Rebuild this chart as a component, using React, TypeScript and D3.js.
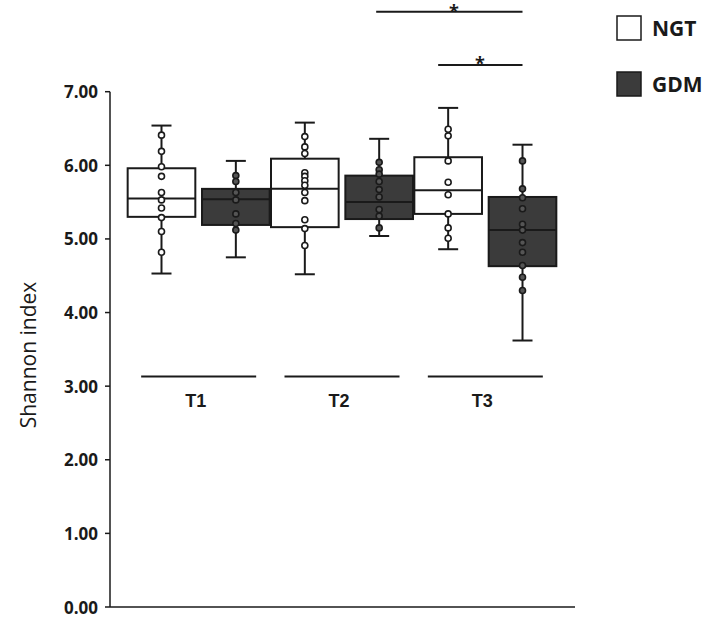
import * as d3 from 'd3';

// ---------------------------------------------------------------------------
// Data
// ---------------------------------------------------------------------------
const TIMEPOINTS = ['T1', 'T2', 'T3'];
const GROUPS = ['NGT', 'GDM'];

// [whisker low, q1, median, q3, whisker high]
const NGT_STATS = [
  [4.53, 5.3, 5.55, 5.96, 6.54],
  [4.52, 5.16, 5.68, 6.09, 6.58],
  [4.86, 5.34, 5.66, 6.11, 6.78],
];
const GDM_STATS = [
  [4.75, 5.19, 5.54, 5.68, 6.06],
  [5.04, 5.27, 5.5, 5.86, 6.36],
  [3.62, 4.63, 5.12, 5.57, 6.28],
];

const NGT_POINTS = [
  [6.41, 6.19, 5.98, 5.85, 5.63, 5.53, 5.42, 5.29, 5.1, 4.82],
  [6.39, 6.25, 6.16, 5.9, 5.85, 5.79, 5.73, 5.63, 5.52, 5.26, 5.14, 4.91],
  [6.49, 6.4, 6.06, 5.77, 5.6, 5.34, 5.15, 5.01],
];
const GDM_POINTS = [
  [5.86, 5.78, 5.63, 5.53, 5.34, 5.21, 5.12],
  [6.04, 5.94, 5.88, 5.78, 5.67, 5.57, 5.4, 5.31, 5.15],
  [6.06, 5.68, 5.56, 5.41, 5.2, 5.12, 4.95, 4.82, 4.64, 4.48, 4.3],
];

const Y_TICKS = [0, 1, 2, 3, 4, 5, 6, 7];

// ---------------------------------------------------------------------------
// Style
// ---------------------------------------------------------------------------
const WIDTH = 708;
const HEIGHT = 621;
const INK = '#1a1a1a';
const DARK_FILL = '#3b3b3b';
const POINT_DARK = '#555555';
const FONT = '"Open Sans", "DejaVu Sans", sans-serif';
const ARIAL = '"Liberation Sans", Arial, sans-serif';

export default function App() {
  const y = d3.scaleLinear().domain([0, 7]).range([607, 91.7]);
  const x = d3.scaleBand().domain(TIMEPOINTS).range([127, 557]);
  const inner = d3.scaleBand().domain(GROUPS).range([-71, 71]).paddingInner(0.09);

  const axisLeft = 110;
  const axisRight = 575;
  const boxW = inner.bandwidth();
  const capW = 20;

  const center = (t: string, g: string) =>
    (x(t) ?? 0) + x.bandwidth() / 2 + (inner(g) ?? 0) + boxW / 2;

  const series = [
    { key: 'NGT', stats: NGT_STATS, points: NGT_POINTS, fill: '#ffffff', pFill: '#ffffff' },
    { key: 'GDM', stats: GDM_STATS, points: GDM_POINTS, fill: DARK_FILL, pFill: POINT_DARK },
  ];

  return (
    <svg
      width={WIDTH}
      height={HEIGHT}
      style={{ position: 'absolute', left: 0, top: 0, background: '#fff' }}
      fontFamily={FONT}
    >
      {/* y axis */}
      <line x1={axisLeft} x2={axisLeft} y1={y(7)} y2={y(0)} stroke={INK} strokeWidth={1.5} />
      {Y_TICKS.map((t) => (
        <g key={t}>
          <line x1={axisLeft - 5} x2={axisLeft} y1={y(t)} y2={y(t)} stroke={INK} strokeWidth={1.5} />
          <text
            x={98}
            y={y(t)}
            textAnchor="end"
            dominantBaseline="central"
            fontSize={17}
            fontWeight="bold"
            fill={INK}
          >
            {t.toFixed(2)}
          </text>
        </g>
      ))}
      {/* x axis */}
      <line x1={axisLeft} x2={axisRight} y1={y(0)} y2={y(0)} stroke={INK} strokeWidth={1.5} />

      <text
        transform={`translate(28,355) rotate(-90)`}
        textAnchor="middle"
        dominantBaseline="central"
        fontSize={21}
        fill={INK}
      >
        Shannon index
      </text>

      {/* group baselines and labels */}
      {TIMEPOINTS.map((t) => {
        const cx = (x(t) ?? 0) + x.bandwidth() / 2;
        return (
          <g key={t}>
            <line x1={cx - 57.5} x2={cx + 57.5} y1={y(3.13)} y2={y(3.13)} stroke={INK} strokeWidth={2} />
            <text
              x={cx - 3}
              y={y(2.8)}
              textAnchor="middle"
              dominantBaseline="central"
              fontSize={18}
              fontWeight="bold"
              fontFamily={ARIAL}
              fill={INK}
            >
              {t}
            </text>
          </g>
        );
      })}

      {/* boxes */}
      {series.map((s) =>
        TIMEPOINTS.map((t, i) => {
          const [lo, q1, med, q3, hi] = s.stats[i];
          const cx = center(t, s.key);
          return (
            <g key={s.key + t}>
              <line x1={cx} x2={cx} y1={y(hi)} y2={y(q3)} stroke={INK} strokeWidth={2} />
              <line x1={cx} x2={cx} y1={y(q1)} y2={y(lo)} stroke={INK} strokeWidth={2} />
              <line x1={cx - capW / 2} x2={cx + capW / 2} y1={y(hi)} y2={y(hi)} stroke={INK} strokeWidth={2} />
              <line x1={cx - capW / 2} x2={cx + capW / 2} y1={y(lo)} y2={y(lo)} stroke={INK} strokeWidth={2} />
              <rect
                x={cx - boxW / 2}
                y={y(q3)}
                width={boxW}
                height={y(q1) - y(q3)}
                fill={s.fill}
                stroke={INK}
                strokeWidth={2}
              />
              <line x1={cx - boxW / 2} x2={cx + boxW / 2} y1={y(med)} y2={y(med)} stroke={INK} strokeWidth={2} />
              {s.points[i].map((v, j) => (
                <circle key={j} cx={cx} cy={y(v)} r={3} fill={s.pFill} stroke={INK} strokeWidth={1.6} />
              ))}
            </g>
          );
        })
      )}

      {/* significance brackets */}
      <line
        x1={center('T2', 'GDM') - 3}
        x2={center('T3', 'GDM')}
        y1={11.7}
        y2={11.7}
        stroke={INK}
        strokeWidth={2}
      />
      <text x={454} y={18} textAnchor="middle" fontSize={18} fontWeight="bold" fill={INK}>
        *
      </text>
      <line
        x1={center('T3', 'NGT') - 10}
        x2={center('T3', 'GDM')}
        y1={65}
        y2={65}
        stroke={INK}
        strokeWidth={2}
      />
      <text x={480} y={70} textAnchor="middle" fontSize={18} fontWeight="bold" fill={INK}>
        *
      </text>

      {/* legend */}
      {GROUPS.map((g, i) => (
        <g key={g} transform={`translate(617,${16 + i * 56})`}>
          <rect x={0} y={0} width={24} height={24} fill={i === 0 ? '#fff' : DARK_FILL} stroke={INK} strokeWidth={1.5} />
          <text x={35} y={12} dominantBaseline="central" fontSize={21} fontWeight="bold" fill={INK}>
            {g}
          </text>
        </g>
      ))}
    </svg>
  );
}
